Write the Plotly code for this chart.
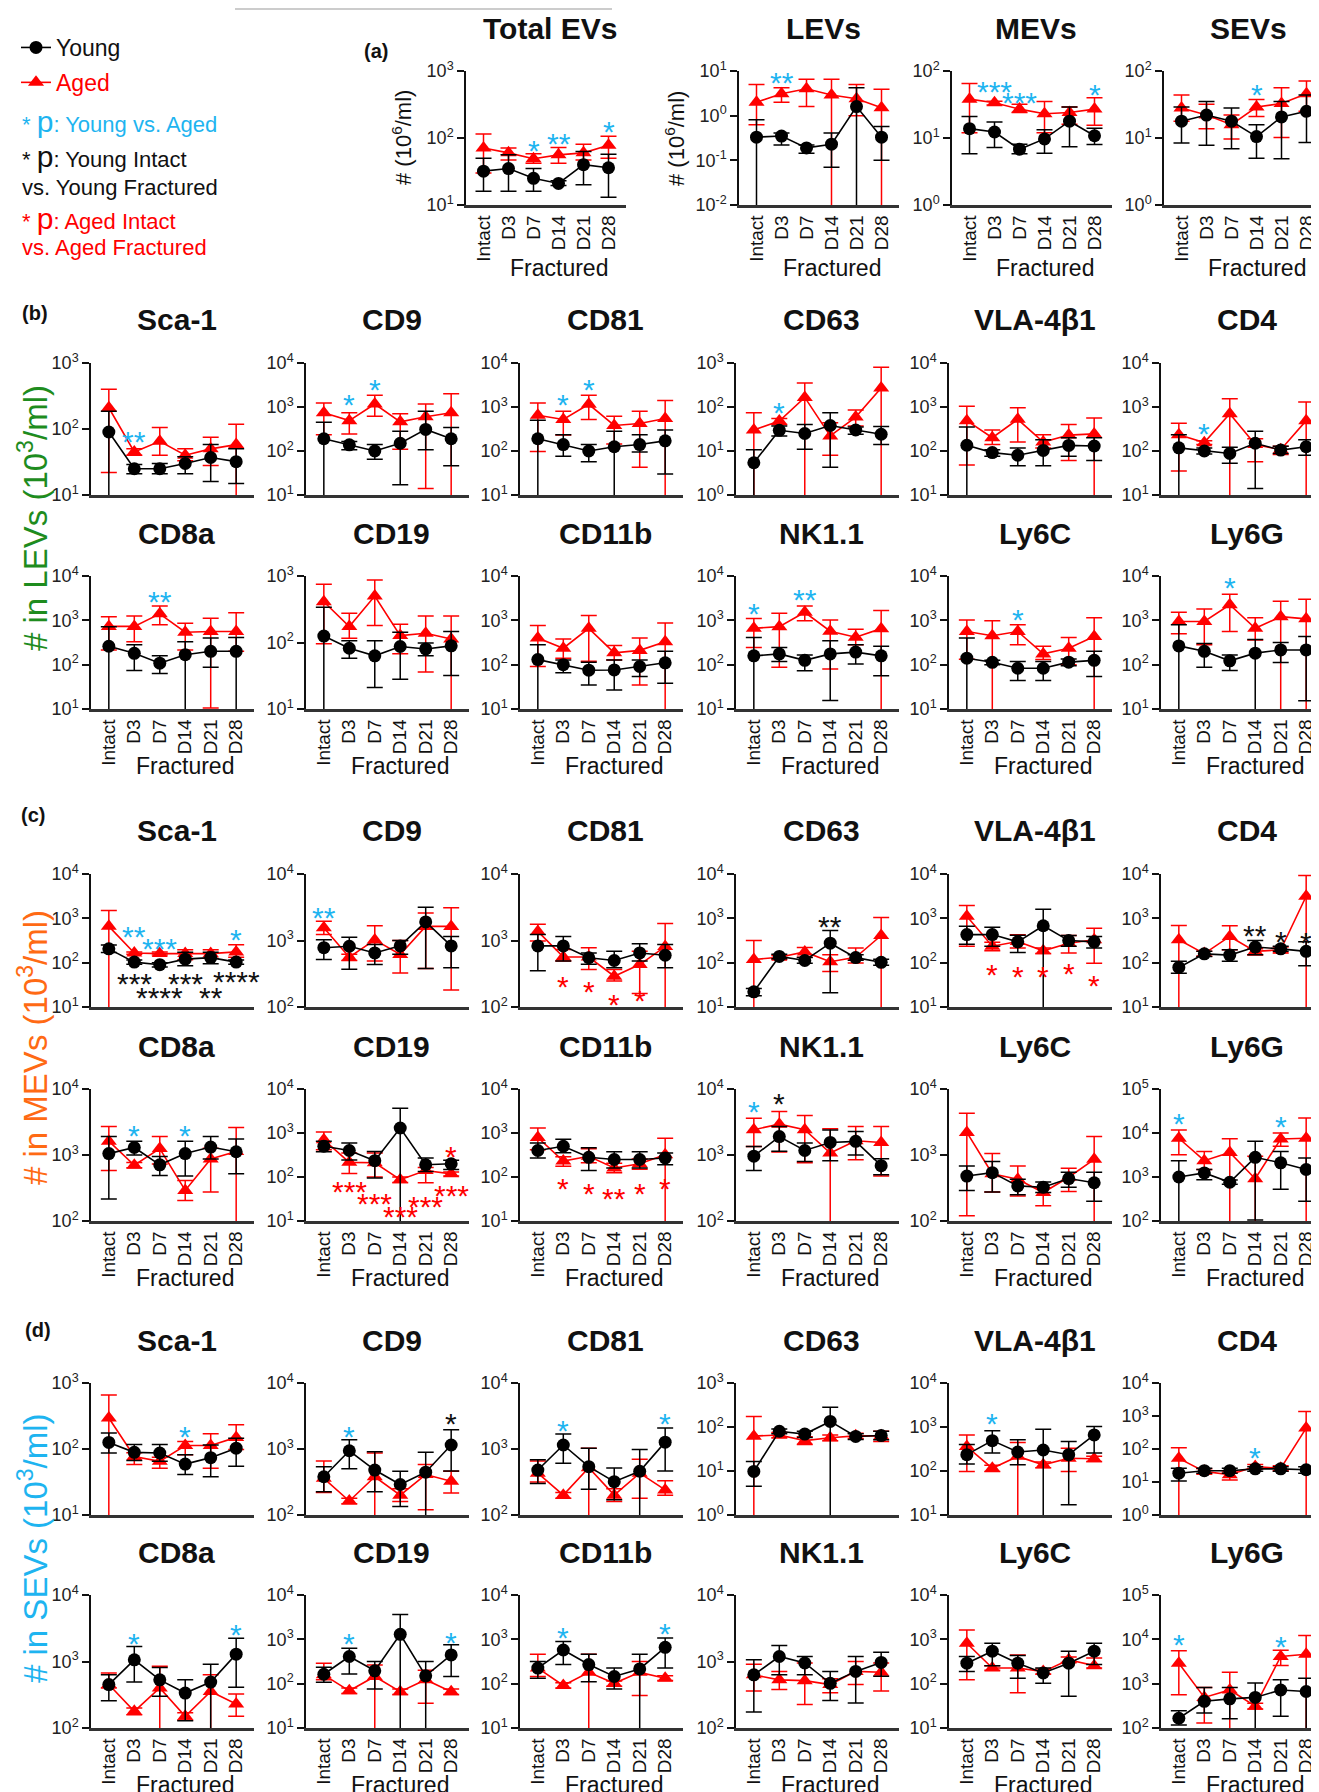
import math
import plotly.graph_objects as go

# ---------------------------------------------------------------- categories
CATS = ["Intact", "D3", "D7", "D14", "D21", "D28"]
MARKERS = ["Sca-1", "CD9", "CD81", "CD63", "VLA-4β1", "CD4",
           "CD8a", "CD19", "CD11b", "NK1.1", "Ly6C", "Ly6G"]

# ---------------------------------------------------------------- (a) totals
A_TOTAL = dict(young=[32, 35, 25, 21, 40, 36], young_hi=[50, 56, 35, 23, 63, 57], young_lo=[16, 16, 16, 19.5, 20, 13],
               aged=[71, 60, 49, 56, 60, 78], aged_hi=[115, 71, 58, 72, 81, 106], aged_lo=[30, 47, 42, 42, 47, 50])
A_LEV = dict(young=[0.33, 0.35, 0.19, 0.23, 1.6, 0.33], young_hi=[0.81, 0.41, 0.22, 0.41, 4.2, 0.57], young_lo=[0, 0.22, 0.145, 0.07, 0, 0.10],
             aged=[2.0, 3.1, 4.0, 2.9, 2.4, 1.5], aged_hi=[5.0, 4.2, 6.5, 6.5, 5.0, 3.9], aged_lo=[0.63, 2.0, 1.6, 0, 1.0, 0])
A_MEV = dict(young=[13.8, 12.3, 6.8, 9.7, 17.8, 10.8], young_hi=[21, 17.4, 8.1, 13.3, 29, 14], young_lo=[5.8, 7.2, 5.8, 5.9, 7.4, 8],
             aged=[38, 33.5, 27, 23, 24, 27], aged_hi=[65, 35.5, 32, 35, 29, 40], aged_lo=[12, 31, 24, 12, 16, 15.5])
A_SEV = dict(young=[17.8, 22, 17.8, 10.5, 20.6, 25], young_hi=[29, 35, 28, 15.8, 35, 44], young_lo=[8.4, 7.8, 6.9, 5, 4.9, 8.6],
             aged=[28, 22, 15.8, 29, 32.7, 45.7], aged_hi=[44, 32, 22, 37.6, 56, 71], aged_lo=[17.8, 13.8, 9.7, 21, 10.2, 25])

# ---------------------------------------------------------------- (b) markers in LEVs
L_SCA1 = dict(young=[90, 25, 25, 30, 37, 32], young_hi=[185, 29, 30, 38, 58, 50], young_lo=[0, 21, 21, 21, 16, 15],
              aged=[210, 45, 65, 40, 50, 58], aged_hi=[400, 50, 105, 50, 75, 118], aged_lo=[22, 40, 40, 33, 28, 0])
L_CD9 = dict(young=[190, 138, 100, 150, 310, 190], young_hi=[450, 165, 140, 280, 800, 340], young_lo=[0, 107, 65, 17, 107, 46],
             aged=[740, 490, 1170, 460, 600, 740], aged_hi=[1230, 740, 1860, 700, 1170, 2000], aged_lo=[235, 245, 620, 110, 14, 0])
L_CD81 = dict(young=[190, 140, 100, 125, 140, 170], young_hi=[500, 235, 140, 280, 235, 300], young_lo=[0, 76, 57, 0, 95, 30],
              aged=[650, 520, 1150, 380, 420, 550], aged_hi=[1230, 800, 1850, 620, 800, 1400], aged_lo=[97, 230, 520, 145, 43, 0])
L_CD63 = dict(young=[5.4, 29.5, 25, 38, 30, 24], young_hi=[10.7, 37, 40, 74, 35, 36], young_lo=[0, 22, 11, 4.3, 24, 14],
              aged=[30, 48, 165, 22, 59, 270], aged_hi=[74, 55, 350, 44, 85, 800], aged_lo=[0, 40, 0, 8, 37, 0])
L_VLA = dict(young=[135, 92, 80, 103, 134, 130], young_hi=[350, 107, 117, 180, 200, 200], young_lo=[0, 76, 46, 46, 76, 61],
             aged=[490, 200, 525, 160, 230, 245], aged_hi=[1040, 300, 960, 235, 400, 560], aged_lo=[48, 140, 160, 117, 61, 0])
L_CD4 = dict(young=[118, 100, 88, 150, 105, 125], young_hi=[235, 117, 122, 280, 128, 180], young_lo=[0, 85, 53, 14, 88, 80],
             aged=[235, 155, 700, 140, 107, 490], aged_hi=[430, 170, 1550, 190, 128, 1300], aged_lo=[35, 140, 0, 57, 83, 0])
L_CD8A = dict(young=[260, 180, 108, 168, 200, 200], young_hi=[720, 280, 158, 330, 400, 410], young_lo=[0, 74, 63, 0, 88, 0],
              aged=[730, 730, 1400, 540, 560, 560], aged_hi=[1200, 1260, 2100, 860, 1120, 1480], aged_lo=[215, 330, 790, 215, 10.5, 200])
L_CD19 = dict(young=[125, 82, 63, 87, 80, 89], young_hi=[340, 106, 106, 143, 98, 146], young_lo=[0, 58, 21, 28, 63, 32],
              aged=[410, 174, 500, 127, 138, 113], aged_hi=[750, 275, 870, 188, 250, 250], aged_lo=[96, 116, 180, 68, 36, 0])
L_CD11B = dict(young=[130, 100, 75, 76, 91, 110], young_hi=[280, 128, 114, 128, 128, 200], young_lo=[0, 66, 35, 27, 54, 38],
               aged=[400, 235, 660, 185, 210, 330], aged_hi=[760, 380, 1290, 270, 400, 870], aged_lo=[91, 140, 120, 128, 35, 0])
L_NK11 = dict(young=[158, 175, 125, 175, 192, 158], young_hi=[410, 245, 165, 345, 280, 260], young_lo=[0, 118, 73, 15.5, 104, 56],
              aged=[660, 720, 1520, 570, 415, 650], aged_hi=[1100, 1450, 2100, 1020, 630, 1670], aged_lo=[245, 88, 980, 80, 280, 0])
L_LY6C = dict(young=[140, 113, 83, 83, 114, 125], young_hi=[400, 125, 118, 118, 135, 200], young_lo=[0, 100, 44, 44, 95, 54],
              aged=[560, 450, 560, 175, 235, 430], aged_hi=[1020, 980, 790, 260, 410, 1150], aged_lo=[133, 0, 280, 130, 100, 0])
L_LY6G = dict(young=[265, 200, 122, 182, 215, 215], young_hi=[800, 300, 166, 370, 315, 430], young_lo=[0, 88, 74, 0, 112, 15.4],
              aged=[940, 940, 2250, 660, 1210, 1080], aged_hi=[1520, 1800, 3900, 1150, 2700, 3000], aged_lo=[500, 280, 560, 360, 0, 0])

# ---------------------------------------------------------------- (c) markers in MEVs
M_SCA1 = dict(young=[205, 103, 90, 120, 130, 103], young_hi=[250, 115, 100, 172, 172, 115], young_lo=[170, 92, 80, 85, 95, 92],
              aged=[660, 165, 160, 160, 160, 175], aged_hi=[1500, 175, 175, 195, 195, 255], aged_lo=[0, 155, 148, 117, 125, 132])
M_CD9 = dict(young=[780, 820, 650, 830, 1900, 830], young_hi=[1030, 1120, 870, 1000, 3150, 1150], young_lo=[520, 370, 435, 620, 380, 390],
             aged=[1550, 560, 1020, 615, 1630, 1630], aged_hi=[1950, 620, 1670, 1000, 2600, 3100], aged_lo=[1230, 500, 490, 325, 380, 180])
M_CD81 = dict(young=[830, 830, 550, 500, 650, 600], young_hi=[1230, 1150, 650, 690, 890, 870], young_lo=[350, 490, 440, 390, 490, 390],
              aged=[1370, 565, 565, 290, 435, 810], aged_hi=[1750, 730, 780, 365, 690, 1800], aged_lo=[980, 490, 365, 245, 160, 0])
M_CD63 = dict(young=[22, 138, 112, 275, 130, 102], young_hi=[26, 155, 130, 535, 150, 120], young_lo=[18, 122, 97, 21, 113, 87],
              aged=[118, 132, 175, 105, 132, 410], aged_hi=[315, 145, 220, 150, 215, 1050], aged_lo=[0, 120, 132, 63, 98, 0])
M_VLA = dict(young=[430, 430, 295, 680, 315, 295], young_hi=[660, 630, 415, 1600, 410, 390], young_lo=[260, 235, 170, 0, 235, 215],
             aged=[1120, 235, 300, 185, 275, 330], aged_hi=[1950, 290, 425, 215, 410, 600], aged_lo=[235, 185, 215, 160, 165, 97])
M_CD4 = dict(young=[78, 158, 148, 225, 205, 180], young_hi=[107, 180, 195, 315, 235, 295], young_lo=[58, 138, 107, 150, 180, 85],
             aged=[330, 160, 390, 180, 195, 3150], aged_hi=[690, 180, 680, 205, 225, 9300], aged_lo=[0, 140, 195, 148, 165, 0])
M_CD8A = dict(young=[1050, 1300, 710, 1050, 1320, 1120], young_hi=[1900, 1620, 950, 1620, 1900, 1740], young_lo=[215, 1000, 490, 480, 870, 520],
              aged=[1620, 700, 1250, 290, 870, 1130], aged_hi=[2700, 770, 1900, 410, 1270, 2600], aged_lo=[580, 640, 730, 205, 275, 0])
M_CD19 = dict(young=[500, 400, 235, 1300, 190, 200], young_hi=[650, 590, 380, 3650, 270, 240], young_lo=[375, 245, 95, 0, 134, 148],
              aged=[700, 215, 210, 87, 140, 118], aged_hi=[1050, 350, 350, 100, 165, 130], aged_lo=[415, 120, 100, 75, 74, 105])
M_CD11B = dict(young=[400, 500, 280, 250, 250, 270], young_hi=[590, 720, 460, 375, 375, 350], young_lo=[270, 355, 140, 160, 160, 190],
               aged=[790, 230, 295, 160, 200, 320], aged_hi=[1300, 290, 440, 205, 255, 760], aged_lo=[415, 175, 210, 125, 150, 0])
M_NK11 = dict(young=[960, 1900, 1170, 1550, 1610, 690], young_hi=[1350, 2700, 1520, 2400, 2280, 880], young_lo=[580, 1140, 800, 820, 1000, 500],
              aged=[2420, 2930, 2420, 1070, 1640, 1550], aged_hi=[3600, 4550, 3960, 2500, 2700, 2700], aged_lo=[1350, 1110, 760, 0, 850, 480])
M_LY6C = dict(young=[480, 540, 340, 325, 440, 380], young_hi=[680, 800, 430, 390, 550, 550], young_lo=[290, 275, 250, 270, 325, 200],
              aged=[2200, 520, 430, 270, 460, 860], aged_hi=[4300, 1050, 680, 320, 630, 1900], aged_lo=[120, 275, 240, 170, 280, 0])
M_LY6G = dict(young=[1000, 1240, 760, 2800, 2100, 1480], young_hi=[2350, 1480, 850, 6500, 3800, 2700], young_lo=[0, 870, 680, 105, 525, 280],
              aged=[7600, 2350, 3600, 910, 7300, 7600], aged_hi=[11700, 3800, 7400, 2950, 10000, 21800], aged_lo=[3200, 1480, 0, 0, 5000, 0])

# ---------------------------------------------------------------- (d) markers in SEVs
S_SCA1 = dict(young=[126, 89, 87, 59, 74, 103], young_hi=[175, 117, 117, 82, 115, 145], young_lo=[87, 67, 65, 41, 38, 55],
              aged=[295, 77, 65, 113, 113, 150], aged_hi=[660, 88, 75, 130, 170, 233], aged_lo=[0, 58, 51, 82, 51, 98])
S_CD9 = dict(young=[380, 940, 480, 290, 445, 1150], young_hi=[540, 1380, 910, 460, 890, 1950], young_lo=[225, 500, 225, 135, 0, 465],
             aged=[360, 163, 380, 200, 410, 325], aged_hi=[660, 180, 870, 250, 580, 460], aged_lo=[220, 148, 0, 160, 120, 215])
S_CD81 = dict(young=[480, 1150, 540, 320, 460, 1270], young_hi=[690, 1690, 1030, 515, 980, 2080], young_lo=[300, 610, 245, 170, 0, 465],
              aged=[430, 200, 520, 200, 430, 240], aged_hi=[660, 220, 1030, 250, 700, 330], aged_lo=[315, 180, 0, 160, 180, 200])
S_CD63 = dict(young=[9.8, 80, 69, 134, 61, 64], young_hi=[16.5, 90, 80, 280, 70, 80], young_lo=[4.5, 70, 58, 0, 52, 51],
              aged=[62, 66, 49, 57, 63, 63], aged_hi=[173, 75, 60, 66, 72, 80], aged_lo=[0, 57, 40, 49, 55, 47])
S_VLA = dict(young=[235, 490, 270, 300, 235, 660], young_hi=[400, 820, 515, 890, 470, 1020], young_lo=[145, 255, 138, 0, 17, 255],
             aged=[360, 115, 215, 138, 195, 190], aged_hi=[660, 135, 445, 160, 330, 215], aged_lo=[98, 98, 0, 118, 98, 165])
S_CD4 = dict(young=[18.5, 22, 22, 25, 25, 23.5], young_hi=[26, 26, 26, 29, 29, 29], young_lo=[10.8, 18.5, 18.5, 21, 21, 18.5],
             aged=[52, 21, 16.6, 29.5, 26, 430], aged_hi=[110, 25, 20, 34, 31, 1380], aged_lo=[0, 17.5, 11.5, 25, 22, 0])
S_CD8A = dict(young=[450, 1060, 530, 335, 490, 1290], young_hi=[630, 1680, 815, 530, 910, 2240], young_lo=[257, 490, 300, 129, 0, 410],
              aged=[450, 178, 400, 150, 355, 230], aged_hi=[670, 200, 850, 170, 630, 325], aged_lo=[400, 158, 0, 132, 0, 150])
S_CD19 = dict(young=[163, 410, 195, 1300, 150, 445], young_hi=[235, 630, 315, 3650, 315, 750], young_lo=[107, 166, 76, 0, 0, 145],
              aged=[158, 69, 145, 66, 123, 66], aged_hi=[290, 80, 265, 76, 200, 76], aged_lo=[123, 60, 0, 57, 36, 57])
S_CD11B = dict(young=[225, 575, 270, 145, 215, 660], young_hi=[315, 890, 460, 225, 460, 1070], young_lo=[133, 270, 110, 76, 0, 225],
               aged=[225, 91, 180, 102, 180, 133], aged_hi=[460, 105, 460, 115, 315, 150], aged_lo=[145, 80, 0, 88, 54, 118])
S_NK11 = dict(young=[630, 1190, 950, 470, 710, 970], young_hi=[1060, 1740, 1190, 710, 1190, 1380], young_lo=[174, 630, 630, 260, 238, 600],
              aged=[630, 530, 515, 450, 710, 690], aged_hi=[910, 710, 950, 550, 1000, 950], aged_lo=[360, 380, 225, 340, 450, 360])
S_LY6C = dict(young=[290, 540, 290, 175, 290, 540], young_hi=[410, 815, 430, 225, 540, 815], young_lo=[187, 255, 133, 102, 52, 270],
              aged=[815, 225, 225, 187, 345, 255], aged_hi=[1630, 255, 445, 215, 400, 380], aged_lo=[123, 200, 62, 165, 300, 225])
S_LY6G = dict(young=[166, 400, 455, 490, 720, 665], young_hi=[245, 820, 820, 1030, 1220, 1320], young_lo=[117, 218, 162, 0, 183, 0],
              aged=[2900, 490, 720, 310, 4100, 4600], aged_hi=[5500, 820, 1800, 360, 5700, 12200], aged_lo=[560, 130, 0, 270, 2560, 0])

# ---------------------------------------------------------------- significance marks: (category, text, kind, value)
STARS = {
    "A_TOTAL": [("D7", "*", "c", 84), ("D14", "**", "c", 106), ("D28", "*", "c", 158)],
    "A_LEV": [("D3", "**", "c", 7.8), ("D7", "*", "c", 12.3)],
    "A_MEV": [("D3", "***", "c", 62), ("D7", "***", "c", 43), ("D28", "*", "c", 56)],
    "A_SEV": [("D14", "*", "c", 56)],
    "L_SCA1": [("D3", "**", "c", 83)],
    "L_CD9": [("D3", "*", "c", 1660), ("D7", "*", "c", 3630)],
    "L_CD81": [("D3", "*", "c", 1660), ("D7", "*", "c", 3630)],
    "L_CD63": [("D3", "*", "c", 110)],
    "L_CD4": [("D3", "*", "c", 360)],
    "L_CD8A": [("D7", "**", "c", 3900)],
    "L_CD19": [("D7", "*", "c", 1260)],
    "L_NK11": [("Intact", "*", "c", 2000), ("D7", "**", "c", 4270)],
    "L_LY6C": [("D7", "*", "c", 1510)],
    "L_LY6G": [("D7", "*", "c", 7760)],
    "M_SCA1": [("D3", "**", "c", 550), ("D7", "***", "c", 300), ("D28", "*", "c", 470),
               ("D3", "***", "k", 48), ("D7", "****", "k", 24), ("D14", "***", "k", 48),
               ("D21", "**", "k", 24), ("D28", "****", "k", 54)],
    "M_CD9": [("Intact", "**", "c", 2800)],
    "M_CD81": [("D3", "*", "r", 257), ("D7", "*", "r", 219), ("D14", "*", "r", 138), ("D21", "*", "r", 162)],
    "M_CD63": [("D14", "**", "k", 955)],
    "M_VLA": [("D3", "*", "r", 79), ("D7", "*", "r", 69), ("D14", "*", "r", 69), ("D21", "*", "r", 80), ("D28", "*", "r", 45)],
    "M_CD4": [("D14", "**", "k", 575), ("D21", "*", "k", 427), ("D28", "*", "k", 417)],
    "M_CD8A": [("D3", "*", "c", 2510), ("D14", "*", "c", 2510)],
    "M_CD19": [("D28", "*", "r", 420), ("D3", "***", "r", 68), ("D7", "***", "r", 37), ("D14", "***", "r", 18),
               ("D21", "***", "r", 31), ("D28", "***", "r", 56)],
    "M_CD11B": [("D3", "*", "r", 79), ("D7", "*", "r", 60), ("D14", "**", "r", 48), ("D21", "*", "r", 62), ("D28", "*", "r", 79)],
    "M_NK11": [("Intact", "*", "c", 5750), ("D3", "*", "k", 7600)],
    "M_LY6G": [("Intact", "*", "c", 23400), ("D21", "*", "c", 20000)],
    "S_SCA1": [("D14", "*", "c", 195)],
    "S_CD9": [("D3", "*", "c", 1950), ("D28", "*", "k", 3090)],
    "S_CD81": [("D3", "*", "c", 2400), ("D28", "*", "c", 3090)],
    "S_VLA": [("D3", "*", "c", 1740)],
    "S_CD4": [("D14", "*", "c", 93)],
    "S_CD8A": [("D3", "*", "c", 2400), ("D28", "*", "c", 3240)],
    "S_CD19": [("D3", "*", "c", 1150), ("D28", "*", "c", 1200)],
    "S_CD11B": [("D3", "*", "c", 1620), ("D28", "*", "c", 1950)],
    "S_LY6G": [("Intact", "*", "c", 11000), ("D21", "*", "c", 9800)],
}

# axis decades (log10 of bottom / top tick) per panel
DECADES = {
    "A_TOTAL": (1, 3), "A_LEV": (-2, 1), "A_MEV": (0, 2), "A_SEV": (0, 2),
    "L_SCA1": (1, 3), "L_CD9": (1, 4), "L_CD81": (1, 4), "L_CD63": (0, 3), "L_VLA": (1, 4), "L_CD4": (1, 4),
    "L_CD8A": (1, 4), "L_CD19": (1, 3), "L_CD11B": (1, 4), "L_NK11": (1, 4), "L_LY6C": (1, 4), "L_LY6G": (1, 4),
    "M_SCA1": (1, 4), "M_CD9": (2, 4), "M_CD81": (2, 4), "M_CD63": (1, 4), "M_VLA": (1, 4), "M_CD4": (1, 4),
    "M_CD8A": (2, 4), "M_CD19": (1, 4), "M_CD11B": (1, 4), "M_NK11": (2, 4), "M_LY6C": (2, 4), "M_LY6G": (2, 5),
    "S_SCA1": (1, 3), "S_CD9": (2, 4), "S_CD81": (2, 4), "S_CD63": (0, 3), "S_VLA": (1, 4), "S_CD4": (0, 4),
    "S_CD8A": (2, 4), "S_CD19": (1, 4), "S_CD11B": (1, 4), "S_NK11": (2, 4), "S_LY6C": (1, 4), "S_LY6G": (2, 5),
}

SECTION_KEYS = ["SCA1", "CD9", "CD81", "CD63", "VLA", "CD4", "CD8A", "CD19", "CD11B", "NK11", "LY6C", "LY6G"]
DATA = dict(
    A_TOTAL=A_TOTAL, A_LEV=A_LEV, A_MEV=A_MEV, A_SEV=A_SEV,
    L_SCA1=L_SCA1, L_CD9=L_CD9, L_CD81=L_CD81, L_CD63=L_CD63, L_VLA=L_VLA, L_CD4=L_CD4,
    L_CD8A=L_CD8A, L_CD19=L_CD19, L_CD11B=L_CD11B, L_NK11=L_NK11, L_LY6C=L_LY6C, L_LY6G=L_LY6G,
    M_SCA1=M_SCA1, M_CD9=M_CD9, M_CD81=M_CD81, M_CD63=M_CD63, M_VLA=M_VLA, M_CD4=M_CD4,
    M_CD8A=M_CD8A, M_CD19=M_CD19, M_CD11B=M_CD11B, M_NK11=M_NK11, M_LY6C=M_LY6C, M_LY6G=M_LY6G,
    S_SCA1=S_SCA1, S_CD9=S_CD9, S_CD81=S_CD81, S_CD63=S_CD63, S_VLA=S_VLA, S_CD4=S_CD4,
    S_CD8A=S_CD8A, S_CD19=S_CD19, S_CD11B=S_CD11B, S_NK11=S_NK11, S_LY6C=S_LY6C, S_LY6G=S_LY6G,
)

# ---------------------------------------------------------------- styling / layout
W, H = 1319, 1792
FONT = "Liberation Sans, Arial, Helvetica, sans-serif"
CYAN = "#1EB4F0"
RED = "#FF0000"
GREEN = "#1E8C1E"
ORANGE = "#FF6A14"
STAR_COL = {"c": CYAN, "k": "#111111", "r": RED}

COL_LEFT = [83, 298, 512, 728, 941, 1153]
PANEL_W = 163
ROWS = {"a": (63, 197), "b1": (355, 487), "b2": (568, 701), "c1": (866, 999),
        "c2": (1081, 1213), "d1": (1375, 1507), "d2": (1587, 1720)}

panels = [
    dict(key="A_TOTAL", title="Total EVs", left=458, w=160, row="a", xlab=True, ylab=True),
    dict(key="A_LEV", title="LEVs", left=731, w=160, row="a", xlab=True, ylab=True),
    dict(key="A_MEV", title="MEVs", left=944, w=160, row="a", xlab=True, ylab=False),
    dict(key="A_SEV", title="SEVs", left=1156, w=160, row="a", xlab=True, ylab=False),
]
for prefix, r1, r2 in [("L", "b1", "b2"), ("M", "c1", "c2"), ("S", "d1", "d2")]:
    for j, (mk, title) in enumerate(zip(SECTION_KEYS, MARKERS)):
        panels.append(dict(key=f"{prefix}_{mk}", title=title, left=COL_LEFT[j % 6], w=PANEL_W,
                           row=r1 if j < 6 else r2, xlab=j >= 6, ylab=False))

fig = go.Figure()
axes = {}
ann = []


def px_x(v):
    return v / W


def px_y(v):
    return 1 - v / H


for i, p in enumerate(panels, start=1):
    s = "" if i == 1 else str(i)
    xn, yn = "x" + s, "y" + s
    top, bot = ROWS[p["row"]]
    lo_d, hi_d = DECADES[p["key"]]
    axes["xaxis" + s] = dict(
        domain=[px_x(p["left"]), px_x(p["left"] + p["w"])], anchor=yn, type="category",
        categoryorder="array", categoryarray=CATS, range=[-0.7, 5.7],
        tickmode="linear", tick0=0, dtick=1,
        showline=True, linecolor="#333333", linewidth=2.5, ticks="", showgrid=False, zeroline=False,
        showticklabels=p["xlab"], tickangle=-90, tickfont=dict(size=19, color="#111", family=FONT),
        fixedrange=True)
    axes["yaxis" + s] = dict(
        domain=[px_y(bot), px_y(top)], anchor=xn, type="log", range=[lo_d, hi_d],
        tickvals=[10 ** k for k in range(lo_d, hi_d + 1)],
        ticktext=[f"10<sup>{k}</sup>" for k in range(lo_d, hi_d + 1)],
        showline=True, linecolor="#111", linewidth=1.5, ticks="outside", ticklen=7, tickwidth=1.5,
        tickcolor="#111", showgrid=False, zeroline=False,
        tickfont=dict(size=18, color="#222", family=FONT), fixedrange=True)

    d = DATA[p["key"]]
    for grp, color, sym, size, name, rank in [
        ("aged", RED, "triangle-up", 14, f'<span style="color:{RED}">Aged</span>', 2),
        ("young", "#000000", "circle", 13, "Young", 1),
    ]:
        m, hi, lo = d[grp], d[grp + "_hi"], d[grp + "_lo"]
        fig.add_trace(go.Scatter(
            x=CATS, y=m, xaxis=xn, yaxis=yn, mode="lines+markers", name=name,
            legendrank=rank, legendgroup=grp, showlegend=(i == 1),
            line=dict(color=color, width=1.6),
            marker=dict(symbol=sym, size=size, color=color, line=dict(width=0)),
            error_y=dict(type="data", symmetric=False,
                         array=[max(h - v, 0) for h, v in zip(hi, m)],
                         arrayminus=[max(v - l, 0) for v, l in zip(m, lo)],
                         color=color, thickness=1.5, width=8),
            hoverinfo="skip"))

    # panel title
    ann.append(dict(text=f"<b>{p['title']}</b>", xref="paper", yref="paper",
                    x=px_x(p["left"] + p["w"] / 2 + 4), y=px_y(top - 43), xanchor="center", yanchor="middle",
                    showarrow=False, font=dict(size=30, color="#111", family=FONT)))
    # "Fractured" under the D3..D28 tick labels
    if p["xlab"]:
        ann.append(dict(text="Fractured", xref=xn, yref=yn + " domain", x=3, y=0,
                        yshift=-63 if p["row"] == "a" else -57,
                        xanchor="center", yanchor="middle", showarrow=False,
                        font=dict(size=23, color="#111", family=FONT)))
    if p["ylab"]:
        ann.append(dict(text="# (10<sup>6</sup>/ml)", xref="paper", yref="paper",
                        x=px_x(p["left"] - 64), y=px_y((top + bot) / 2), textangle=-90,
                        xanchor="center", yanchor="middle", showarrow=False,
                        font=dict(size=22, color="#111", family=FONT)))
    for cat, txt, kind, val in STARS.get(p["key"], []):
        ann.append(dict(text=txt, xref=xn, yref=yn, x=cat, y=math.log10(val), yshift=-7,
                        xanchor="center", yanchor="middle", showarrow=False,
                        font=dict(size=30, color=STAR_COL[kind], family=FONT)))

# section y labels
for txt, col, yc in [("# in LEVs (10<sup>3</sup>/ml)", GREEN, 510),
                     ("# in MEVs (10<sup>3</sup>/ml)", ORANGE, 1040),
                     ("# in SEVs (10<sup>3</sup>/ml)", CYAN, 1540)]:
    ann.append(dict(text=txt, xref="paper", yref="paper", x=px_x(25), y=px_y(yc), textangle=-90,
                    xanchor="center", yanchor="middle", showarrow=False,
                    font=dict(size=33, color=col, family=FONT)))

# section letters
for txt, x, y in [("(a)", 368, 43), ("(b)", 27, 305), ("(c)", 25, 807), ("(d)", 30, 1322)]:
    ann.append(dict(text=f"<b>{txt}</b>", xref="paper", yref="paper", x=px_x(x), y=px_y(y),
                    xanchor="center", yanchor="middle", showarrow=False,
                    font=dict(size=20, color="#111", family=FONT)))

# significance key
P = '<span style="font-size:30px">p</span>:'
for txt, col, x, y in [
    (f"* {P} Young vs. Aged", CYAN, 12, 114),
    (f"* {P} Young Intact", "#111111", 12, 149),
    ("vs. Young Fractured", "#111111", 12, 179),
    (f"* {P} Aged Intact", RED, 12, 211),
    ("vs. Aged Fractured", RED, 12, 240),
]:
    ann.append(dict(text=txt, xref="paper", yref="paper", x=px_x(x), y=px_y(y),
                    xanchor="left", yanchor="middle", showarrow=False,
                    font=dict(size=22, color=col, family=FONT)))

fig.update_layout(
    width=W, height=H, margin=dict(l=0, r=0, t=0, b=0, autoexpand=False),
    paper_bgcolor="white", plot_bgcolor="white",
    font=dict(family=FONT, color="#111"),
    showlegend=True,
    legend=dict(x=px_x(8), y=px_y(18), xanchor="left", yanchor="top",
                bgcolor="rgba(0,0,0,0)", font=dict(size=23, color="#111", family=FONT),
                tracegroupgap=2, itemwidth=30),
    annotations=ann,
    shapes=[dict(type="line", xref="paper", yref="paper", x0=px_x(227), x1=px_x(604),
                 y0=px_y(1), y1=px_y(1), line=dict(color="#cccccc", width=2))],
    hovermode=False,
    **axes,
)

fig.write_html("out.html")
